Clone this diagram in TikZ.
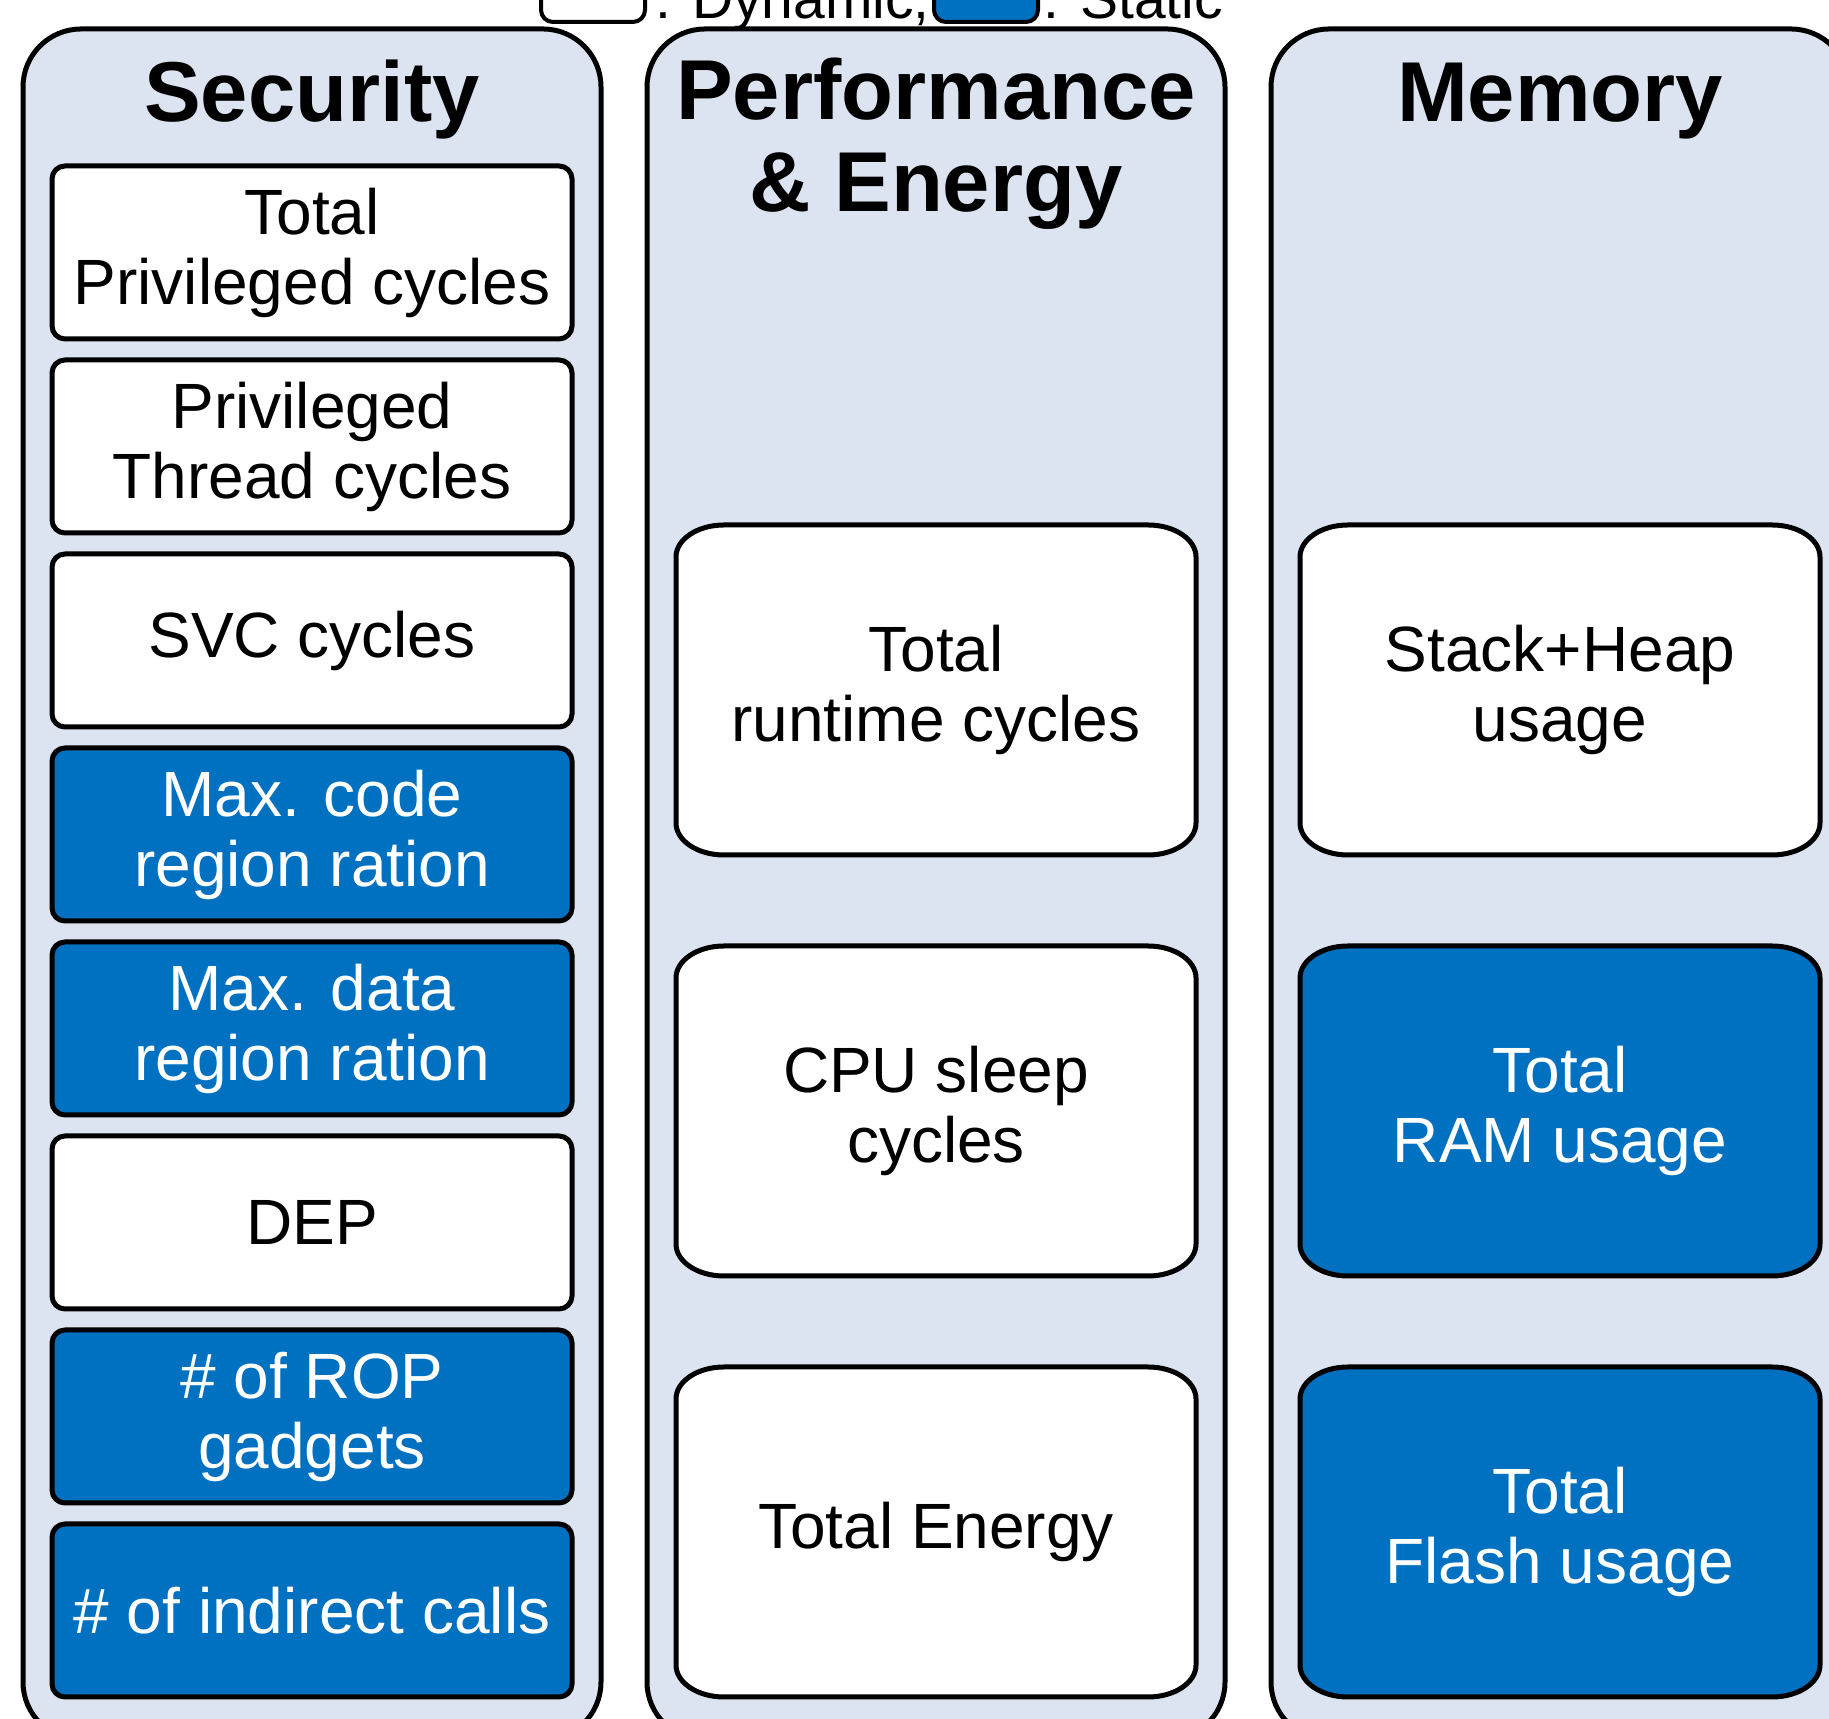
\documentclass[tikz,border=0pt]{standalone}
\usepackage{fontspec}
\setmainfont{Liberation Sans}
\usetikzlibrary{calc}
\definecolor{columnfill}{RGB}{219,228,240}
\definecolor{staticblue}{RGB}{0,112,192}

\begin{document}
\begin{tikzpicture}[x=1pt, y=1pt,
	column/.style={draw=black, line width=5pt, fill=columnfill, rounded corners=58pt},
	title/.style={inner sep=0pt, align=center, font=\myfonttitle},
	smallbox/.style={draw=black, line width=5pt, rounded corners=13pt, minimum width=520pt, minimum height=173pt, inner sep=0pt, align=center, font=\myfontbox},
	bigline/.style={draw=black, line width=5pt},
	bigtext/.style={inner sep=0pt, align=center, font=\myfontbox},
	dynbox/.style={fill=white, text=black},
	statbox/.style={fill=staticblue, text=white},
	legendbox/.style={draw=black, line width=4pt, rounded corners=12pt},
	legendtext/.style={inner sep=0pt, anchor=base west, font=\myfontlegend}]
				\newcommand{\myfonttitle}{\fontsize{85}{92}\selectfont\bfseries}
				\newcommand{\myfontbox}{\fontsize{64}{70}\selectfont}
				\newcommand{\myfontlegend}{\fontsize{57}{64}\selectfont}
				%Box with flattened round corners: name, x, y, fill, text colour, text
				\newcommand{\bigbox}[6]{
					\draw[bigline, fill=#4] (#2-212,#3-165) -- (#2+212,#3-165)
						arc[start angle=270, end angle=360, x radius=48pt, y radius=32pt] -- (#2+260,#3+133)
						arc[start angle=0, end angle=90, x radius=48pt, y radius=32pt] -- (#2-212,#3+165)
						arc[start angle=90, end angle=180, x radius=48pt, y radius=32pt] -- (#2-260,#3-133)
						arc[start angle=180, end angle=270, x radius=48pt, y radius=32pt] -- cycle;
					\node[bigtext, text=#5] (#1) at (#2,#3) {#6};
				}
				%Page, cut like the reference
				\useasboundingbox (0,0) rectangle (1829,1719);
				\clip (0,0) rectangle (1829,1719);
				%Legend at the top
				\draw[legendbox, fill=white] (541,1697) rectangle (645,1770);
				\node[legendtext] (dynamicLabel) at (655,1700) {: Dynamic,};
				\draw[legendbox, fill=staticblue] (934,1697) rectangle (1038,1770);
				\node[legendtext] (staticLabel) at (1043,1700) {: Static};
				%Columns
				\draw[column] (23,-21) rectangle (601,1690);
				\draw[column] (647,-21) rectangle (1225,1690);
				\draw[column] (1271,-21) rectangle (1849,1690);
				%Titles
				\node[title, anchor=base] (securityTitle) at (312,1597) {Security};
				\node[title, anchor=north] (perfTitle) at (936,1661) {Performance\\\& Energy};
				\node[title, anchor=base] (memoryTitle) at (1560,1597) {Memory};
				%Security metrics
				\node[smallbox, dynbox] (totalPriv) at (312,1466.5) {Total\\Privileged cycles};
				\node[smallbox, dynbox] (threadPriv) at (312,1272.5) {Privileged\\Thread cycles};
				\node[smallbox, dynbox] (svcCycles) at (312,1078.5) {SVC cycles};
				\node[smallbox, statbox] (codeRegion) at (312,884.5) {Max. code\\region ration};
				\node[smallbox, statbox] (dataRegion) at (312,690.5) {Max. data\\region ration};
				\node[smallbox, dynbox] (dep) at (312,496.5) {DEP};
				\node[smallbox, statbox] (ropGadgets) at (312,302.5) {\# of ROP\\gadgets};
				\node[smallbox, statbox] (indirectCalls) at (312,108.5) {\# of indirect calls};
				%Performance & Energy metrics
				\bigbox{runtimeCycles}{936}{1029}{white}{black}{Total\\runtime cycles}
				\bigbox{sleepCycles}{936}{608}{white}{black}{CPU sleep\\cycles}
				\bigbox{totalEnergy}{936}{187}{white}{black}{Total Energy}
				%Memory metrics
				\bigbox{stackHeap}{1560}{1029}{white}{black}{Stack+Heap\\usage}
				\bigbox{ramUsage}{1560}{608}{staticblue}{white}{Total\\RAM usage}
				\bigbox{flashUsage}{1560}{187}{staticblue}{white}{Total\\Flash usage}
\end{tikzpicture}
\end{document}
